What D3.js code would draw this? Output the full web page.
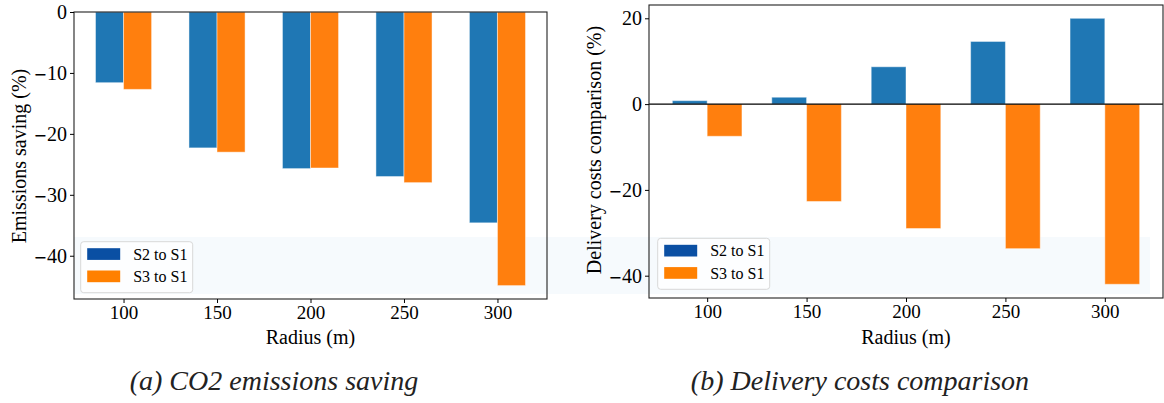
<!DOCTYPE html>
<html><head><meta charset="utf-8">
<script src="https://cdn.jsdelivr.net/npm/d3@7"></script>
<style>body{margin:0;background:#fff}svg{display:block}
svg text{font-family:"Liberation Serif","Times New Roman",Times,"DejaVu Serif",serif !important;}
svg text tspan.m{font-family:"DejaVu Sans",sans-serif !important;}
</style>
</head><body>
<svg id="c" width="1164" height="403"></svg>
<script>
const radii = [100,150,200,250,300];
const emisS2 = [-11.6,-22.3,-25.7,-27.0,-34.6];
const emisS3 = [-12.7,-23.0,-25.6,-28.0,-44.9];
const costS2 = [0.8,1.6,8.7,14.6,20.0];
const costS3 = [-7.5,-22.7,-29.0,-33.7,-42.0];
const emisTicks = [0,-10,-20,-30,-40];
const costTicks = [20,0,-20,-40];
const seriesNames = ["S2 to S1","S3 to S1"];
const captions = ["(a) CO2 emissions saving","(b) Delivery costs comparison"];

const svg = d3.select("#c");
const C1 = "#1f77b4", C2 = "#ff7f0e";
const L1 = "#0a4fa3", L2 = "#ff8000";

svg.append("rect").attr("x",74).attr("y",237).attr("width",1076).attr("height",57).attr("fill","#f6fafd");

function fmtMinus(sel){
  sel.each(function(){
    const t = d3.select(this); const s = t.text();
    t.text(null);
    if (s[0]==="−"){
      t.append("tspan").attr("class","m").attr("font-size","16px").text("−");
      t.append("tspan").text(s.slice(1));
    } else t.append("tspan").text(s);
  });
}

function panel(o){
  const x = d3.scaleLinear().domain(o.xd).range([o.l,o.r]);
  const y = d3.scaleLinear().domain(o.yd).range([o.b,o.t]);
  const g = svg.append("g");
  const bw = o.bw;
  [[o.s1,C1,-1],[o.s2,C2,0]].forEach(([vals,col,off])=>{
    g.selectAll(null).data(radii.map((r,i)=>({r,v:vals[i]}))).enter().append("rect")
      .attr("x",d=>x(d.r+off*bw))
      .attr("width",d=>x(d.r+bw)-x(d.r))
      .attr("y",d=>Math.min(y(d.v),y(0)))
      .attr("height",d=>Math.abs(y(d.v)-y(0)))
      .attr("fill",col).attr("stroke","rgba(255,255,255,0.45)").attr("stroke-width",1);
  });
  if (o.zero){
    g.append("line").attr("x1",o.l).attr("x2",o.r).attr("y1",y(0)).attr("y2",y(0))
      .attr("stroke","#000").attr("stroke-width",1.1);
  }
  g.append("rect").attr("x",o.l).attr("y",o.t).attr("width",o.r-o.l).attr("height",o.b-o.t)
    .attr("fill","none").attr("stroke","#222").attr("stroke-width",1.1);
  const ax = g.append("g").attr("transform",`translate(0,${o.b})`)
    .call(d3.axisBottom(x).tickValues(radii).tickSize(4).tickPadding(3).tickSizeOuter(0));
  ax.select(".domain").remove();
  ax.selectAll("text").attr("font-size","19px").attr("fill","#000");
  const ay = g.append("g").attr("transform",`translate(${o.l},0)`)
    .call(d3.axisLeft(y).tickValues(o.ticks).tickSize(4).tickPadding(3).tickSizeOuter(0)
      .tickFormat(d=>d<0?"−"+Math.abs(d):String(d)));
  ay.select(".domain").remove();
  ay.selectAll("text").attr("font-size","20px").attr("fill","#000").call(fmtMinus);
  g.append("text").attr("x",(o.l+o.r)/2).attr("y",344).attr("text-anchor","middle")
    .attr("font-size","20px").text("Radius (m)");
  g.append("text").attr("transform",`translate(${o.yl[0]},${o.yl[1]}) rotate(-90)`)
    .attr("text-anchor","middle").attr("font-size","20px").text(o.ylabel);
  const lg = g.append("g").attr("transform",`translate(${o.lg[0]},${o.lg[1]})`);
  lg.append("rect").attr("width",112).attr("height",51).attr("rx",3)
    .attr("fill","rgba(255,255,255,0.8)").attr("stroke","#d8d8d8");
  [L1,L2].forEach((c,i)=>{
    lg.append("rect").attr("x",6.5).attr("y",6.5+i*22.3).attr("width",33).attr("height",11.7).attr("fill",c);
    lg.append("text").attr("x",52.5).attr("y",18+i*22.3).attr("font-size","16px").text(seriesNames[i]);
  });
  svg.append("text").attr("x",o.cap).attr("y",390).attr("text-anchor","middle")
    .attr("font-style","italic").attr("font-size","28px").attr("fill","#222").text(o.caption);
}

panel({l:74,r:547,t:12,b:299,xd:[73.5,326.5],yd:[-47.1,0],bw:15,s1:emisS2,s2:emisS3,ticks:emisTicks,
  ylabel:"Emissions saving (%)",yl:[26,156],lg:[80.7,241.7],cap:274,caption:captions[0],zero:false});
panel({l:649,r:1163,t:5,b:298,xd:[70.75,329.25],yd:[-45.2,23.1],bw:17.5,s1:costS2,s2:costS3,ticks:costTicks,
  ylabel:"Delivery costs comparison (%)",yl:[601,150],lg:[657.7,238.3],cap:860,caption:captions[1],zero:true});
</script>
</body></html>
